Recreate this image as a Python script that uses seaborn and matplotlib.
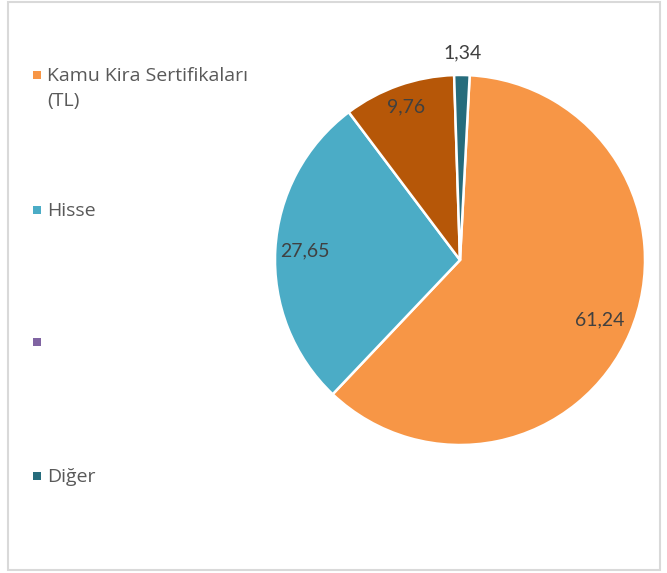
import numpy as np
import matplotlib
matplotlib.use("Agg")
import matplotlib.pyplot as plt
from matplotlib.patches import Rectangle
import seaborn as sns

# data
slice_values = [61.24, 27.65, 9.76, 1.34]
slice_labels = ["61,24", "27,65", "9,76", "1,34"]
slice_colors = ["#F79646", "#4BACC6", "#B65708", "#266C7C"]
label_dist = [0.82, 0.84, 0.88, 1.12]

legend_labels = ["Kamu Kira Sertifikaları\n(TL)", "Hisse", "", "Diğer"]
legend_colors = ["#F79646", "#4BACC6", "#8064A2", "#266C7C"]
legend_y_px = [75, 210, 342, 476]

sns.set_theme(style="white")
plt.rcParams['font.family'] = ['Open Sans', 'DejaVu Sans']

W, H = 667, 573
fig = plt.figure(figsize=(W / 100, H / 100), dpi=100)

# pie axes: centre (460, 260) px, radius 185 px
cx, cy, r = 460, 260, 185
ax = fig.add_axes([(cx - r) / W, (H - cy - r) / H, 2 * r / W, 2 * r / H])
wedges, texts = ax.pie(
    slice_values, colors=slice_colors, labels=slice_labels,
    startangle=87, counterclock=False,
    wedgeprops=dict(edgecolor="white", linewidth=1.8),
    textprops=dict(fontsize=14, color="#404040",
                   family=["Lato", "DejaVu Sans"]),
)
for w, t, d in zip(wedges, texts, label_dist):
    mid = np.deg2rad((w.theta1 + w.theta2) / 2)
    t.set_position((d * np.cos(mid), d * np.sin(mid)))
    t.set_ha("center")
    t.set_va("center")
ax.set_xlim(-1, 1)
ax.set_ylim(-1, 1)
ax.set_aspect("equal")
ax.axis("off")

# legend, drawn entry by entry to keep Excel's spacing
for lab, col, ypx in zip(legend_labels, legend_colors, legend_y_px):
    fig.add_artist(Rectangle((33 / W, (H - ypx - 4) / H), 8 / W, 8 / H,
                             transform=fig.transFigure, color=col, lw=0))
    if lab:
        fig.text(47 / W, (H - ypx + 8) / H, lab, fontsize=14, color="#595959",
                 va="top", ha="left", linespacing=1.5,
                 transform=fig.transFigure)

# chart frame
fig.add_artist(Rectangle((8 / W, 3 / H), (660 - 8) / W, (571 - 3) / H,
                         transform=fig.transFigure, fill=False,
                         edgecolor="#D9D9D9", lw=1.5))

fig.savefig("out.png", dpi=100)
